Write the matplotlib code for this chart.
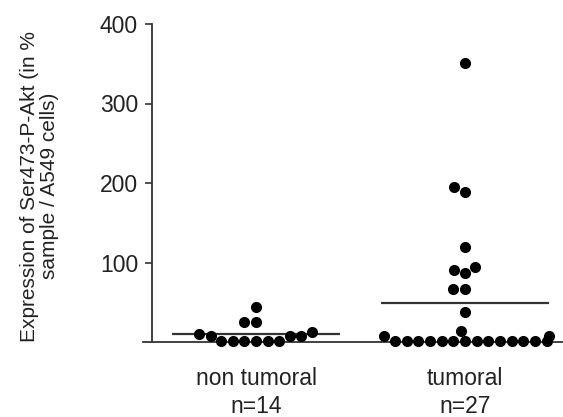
import numpy as np
import matplotlib
matplotlib.use("Agg")
import matplotlib.pyplot as plt
import seaborn as sns

# values (% of A549 cells)
groups = ["non tumoral", "tumoral"]
group_labels = ["non tumoral\nn=14", "tumoral\nn=27"]
non_tumoral = [44, 25, 25, 13, 10, 7.5, 7.5, 7.5, 1, 1, 1, 1, 1, 1]
tumoral = [351, 195, 189, 120, 94, 90, 87, 67, 67, 38, 14, 8, 7,
           1, 1, 1, 1, 1, 1, 1, 1, 1, 1, 1, 1, 1, 1]
yticks = [100, 200, 300, 400]

plt.rcParams['font.family'] = ['Liberation Sans', 'DejaVu Sans']

fig = plt.figure(figsize=(5.63, 4.17), dpi=100)
ax = fig.add_axes([143 / 563, 75 / 417, 420 / 563, 318 / 417])

xs = [groups[0]] * len(non_tumoral) + [groups[1]] * len(tumoral)
ys = non_tumoral + tumoral
sns.swarmplot(x=xs, y=ys, order=groups, color="black", size=8.0,
              linewidth=0, warn_thresh=1, ax=ax)
for c in ax.collections:
    c.set_clip_on(False)

# mean lines
for i, vals in enumerate([non_tumoral, tumoral]):
    ax.hlines(np.mean(vals), i - 0.4, i + 0.4, color="#333333", lw=1.6, zorder=1)

ax.set_xlim(-0.541, 1.469)
ax.set_ylim(0, 400)
ax.set_yticks(yticks)
ax.set_xticks([0, 1])
ax.set_xticklabels(group_labels, fontsize=16.5, color="#222222", linespacing=1.3)
ax.tick_params(axis="x", length=0, pad=18)
ax.tick_params(axis="y", length=5, width=1.2, pad=5, labelsize=16.5,
               color="#333333", labelcolor="#222222")

ax.spines["top"].set_visible(False)
ax.spines["right"].set_visible(False)
ax.spines["left"].set_position(("data", -0.498))
for s in ["left", "bottom"]:
    ax.spines[s].set_color("#333333")
    ax.spines[s].set_linewidth(1.3)

ax.set_xlabel("")
ax.set_ylabel("Expression of Ser473-P-Akt (in %\nsample / A549 cells)",
              fontsize=15, color="#222222", linespacing=1.05)
ax.yaxis.set_label_coords(-0.2, 0.49)

fig.savefig("out.png", dpi=100)
